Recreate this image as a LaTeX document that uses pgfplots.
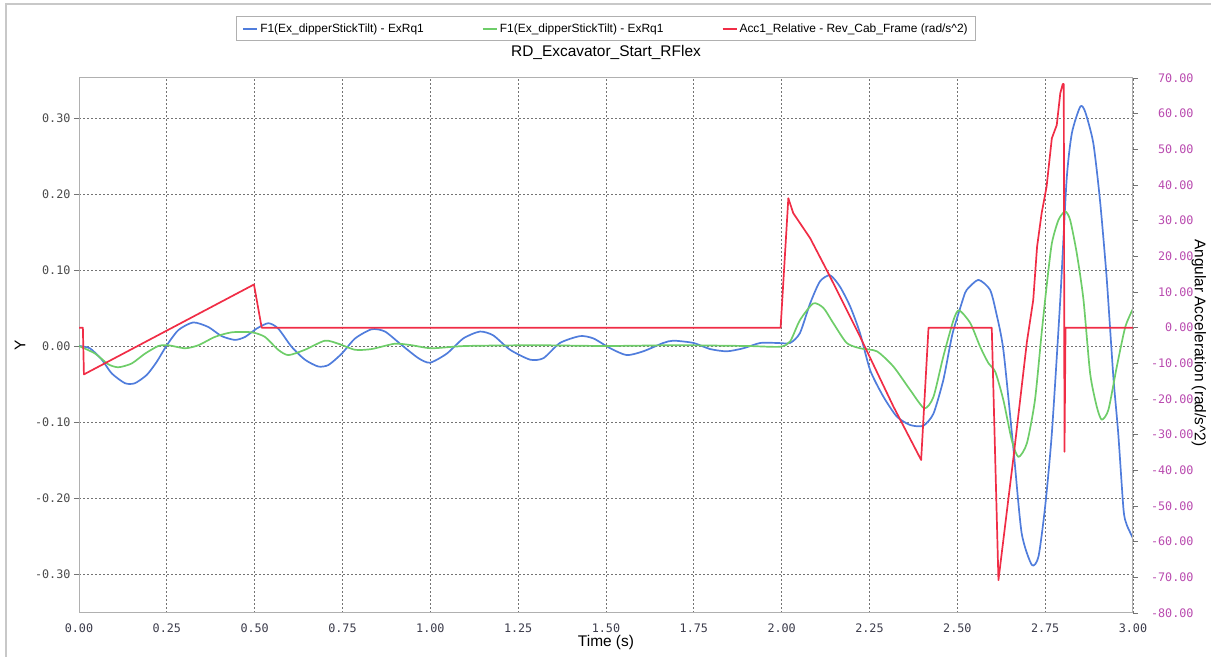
\documentclass[border=0pt]{standalone}
\usepackage{fontspec}
\setmainfont{Liberation Sans}
\newfontfamily\monofont{DejaVu Sans Mono}
\usepackage{pgfplots}
\pgfplotsset{compat=1.18}
\definecolor{cblue}{RGB}{80,125,220}
\definecolor{cgreen}{RGB}{110,205,105}
\definecolor{cred}{RGB}{240,45,70}
\definecolor{rtick}{RGB}{185,75,175}
\definecolor{ltick}{RGB}{75,75,75}
\definecolor{xtickc}{RGB}{60,60,75}
\definecolor{framec}{RGB}{176,176,176}
\definecolor{outerc}{RGB}{200,200,200}
\definecolor{gridc}{RGB}{115,115,115}
\pgfplotsset{
  base/.style={
    width=1054bp, height=535bp, scale only axis,
    at={(79bp,44bp)}, anchor=south west,
    xmin=0, xmax=3,
    axis line style={framec, line width=1bp},
    tick style={gridc, line width=0.8bp},
    major tick length=5bp,
    tick align=outside,
    scaled ticks=false,
    /pgf/number format/assume math mode=true,
    /pgf/number format/fixed,
    /pgf/number format/fixed zerofill,
    /pgf/number format/precision=2,
    every axis plot/.append style={line width=1.7bp, line join=round, mark=none},
  }
}
\begin{document}
\begin{tikzpicture}
\path[use as bounding box] (0,0) rectangle (1211bp,657bp);
\draw[outerc, line width=2bp] (6bp,0bp) -- (6bp,653bp) -- (1211bp,653bp);
\begin{axis}[base,
  ymin=-0.3513, ymax=0.3526,
  ytick={-0.3,-0.2,-0.1,0,0.1,0.2,0.3},
  xtick={0,0.25,0.5,0.75,1,1.25,1.5,1.75,2,2.25,2.5,2.75,3},
  ytick pos=left,
  xtick style={draw=none},
  grid=major,
  grid style={gridc, dash pattern=on 2bp off 2bp, line width=0.7bp},
  yticklabel style={font=\monofont\fontsize{11.8}{13}\selectfont, text=ltick},
  xticklabel style={font=\monofont\fontsize{11.8}{13}\selectfont, text=xtickc, yshift=-2bp},
  title={RD\_Excavator\_Start\_RFlex},
  title style={font=\fontsize{15.5}{18}\selectfont, at={(axis description cs:0.5,1.036)}, anchor=center},
  xlabel={Time (s)},
  xlabel style={font=\fontsize{15.5}{18}\selectfont, at={(axis description cs:0.5,-0.055)}, anchor=center},
  ylabel={Y},
  ylabel style={font=\fontsize{15.5}{18}\selectfont, at={(axis description cs:-0.056,0.5)}, anchor=center},
  legend columns=3,
  legend style={at={(axis description cs:0.5,1.0925)}, anchor=center, draw=framec, line width=0.8bp,
    font=\fontsize{12}{14}\selectfont, inner ysep=5bp, inner xsep=6bp,
    /tikz/every even column/.append style={column sep=56bp}},
  legend image code/.code={\draw[#1, line width=2bp] (0bp,0bp) -- (14bp,0bp);},
]
\addplot[cblue, smooth, tension=0.4] coordinates {
(0,0) (0.031,-0.003) (0.065,-0.018) (0.093,-0.036) (0.131,-0.049) (0.159,-0.049) (0.193,-0.038) (0.221,-0.021) (0.250,0.001) (0.283,0.021) (0.325,0.031) (0.368,0.025) (0.406,0.013) (0.444,0.008) (0.473,0.012) (0.506,0.023) (0.539,0.030) (0.567,0.023) (0.605,-0.001) (0.643,-0.018) (0.681,-0.027) (0.710,-0.025) (0.748,-0.010) (0.786,0.010) (0.833,0.022) (0.871,0.019) (0.919,0.001) (0.966,-0.016) (0.999,-0.022) (1.047,-0.010) (1.094,0.010) (1.141,0.019) (1.179,0.014) (1.227,-0.005) (1.284,-0.018) (1.322,-0.016) (1.369,0.004) (1.426,0.013) (1.464,0.010) (1.512,-0.003) (1.559,-0.012) (1.606,-0.007) (1.663,0.004) (1.692,0.007) (1.749,0.004) (1.796,-0.004) (1.844,-0.007) (1.891,-0.003) (1.939,0.004) (1.986,0.004) (2.024,0.004) (2.052,0.017) (2.081,0.056) (2.109,0.085) (2.138,0.093) (2.166,0.078) (2.195,0.052) (2.223,0.017) (2.252,-0.032) (2.290,-0.067) (2.328,-0.093) (2.366,-0.104) (2.403,-0.105) (2.432,-0.089) (2.460,-0.045) (2.479,0.000) (2.489,0.021) (2.517,0.063) (2.527,0.074) (2.560,0.087) (2.593,0.074) (2.610,0.045) (2.631,-0.005) (2.660,-0.137) (2.683,-0.246) (2.712,-0.288) (2.731,-0.277) (2.750,-0.211) (2.769,-0.115) (2.793,0.061) (2.811,0.218) (2.826,0.280) (2.850,0.315) (2.864,0.308) (2.887,0.267) (2.906,0.192) (2.925,0.090) (2.944,-0.040) (2.958,-0.115) (2.973,-0.215) (2.982,-0.235) (3.000,-0.253)
};
\addlegendentry{F1(Ex\_dipperStickTilt) - ExRq1}
\addplot[cgreen, smooth, tension=0.4] coordinates {
(0,0) (0.046,-0.010) (0.083,-0.024) (0.112,-0.028) (0.150,-0.023) (0.188,-0.010) (0.226,0.000) (0.254,0.001) (0.302,-0.003) (0.340,0.001) (0.387,0.012) (0.435,0.018) (0.492,0.018) (0.529,0.012) (0.567,-0.005) (0.596,-0.012) (0.643,-0.005) (0.700,0.007) (0.738,0.003) (0.786,-0.005) (0.833,-0.004) (0.899,0.003) (0.947,0.001) (1.004,-0.003) (1.100,0.000) (1.300,0.001) (1.500,0.000) (1.700,0.001) (1.900,0.000) (1.995,-0.001) (2.024,0.006) (2.052,0.034) (2.090,0.056) (2.119,0.050) (2.147,0.030) (2.185,0.004) (2.223,-0.003) (2.271,-0.007) (2.318,-0.027) (2.366,-0.058) (2.406,-0.082) (2.432,-0.067) (2.460,-0.014) (2.489,0.034) (2.505,0.047) (2.537,0.030) (2.565,-0.001) (2.589,-0.023) (2.608,-0.034) (2.631,-0.071) (2.655,-0.124) (2.674,-0.146) (2.698,-0.128) (2.721,-0.071) (2.740,0.017) (2.754,0.078) (2.769,0.135) (2.788,0.166) (2.807,0.177) (2.821,0.166) (2.840,0.122) (2.859,0.061) (2.878,-0.036) (2.897,-0.080) (2.911,-0.097) (2.930,-0.084) (2.954,-0.027) (2.978,0.025) (3.000,0.049)
};
\addlegendentry{F1(Ex\_dipperStickTilt) - ExRq1}
\addlegendimage{cred}
\addlegendentry{Acc1\_Relative - Rev\_Cab\_Frame (rad/s\textasciicircum 2)}
\end{axis}
\begin{axis}[base,
  ymin=-80, ymax=70,
  ytick={-80,-70,...,70},
  axis y line*=right,
  axis x line=none,
  yticklabel style={font=\monofont\fontsize{11.8}{13}\selectfont, text=rtick, text width=44bp, align=right, xshift=8bp},
  ylabel={Angular Acceleration (rad/s\textasciicircum 2)},
  ylabel style={font=\fontsize{15.5}{18}\selectfont, at={(axis description cs:1.0625,0.505)}, anchor=center, rotate=180},
]
\addplot[cred] coordinates {
(0,0) (0.011,0) (0.014,-13.1) (0.498,12.1) (0.520,0) (1.997,0) (2.019,36.3) (2.033,32.1) (2.081,25.1) (2.128,16.2) (2.223,-2.5) (2.318,-22.1) (2.397,-37.1) (2.418,0) (2.598,0) (2.617,-70.8) (2.660,-36.2) (2.698,-4.0) (2.716,7.7) (2.727,22.7) (2.740,32.1) (2.754,39.5) (2.769,53.1) (2.783,56.8) (2.793,65.7) (2.800,68.3) (2.803,68.3) (2.805,-34.8) (2.808,0) (3.000,0)
};
\end{axis}
\end{tikzpicture}
\end{document}
